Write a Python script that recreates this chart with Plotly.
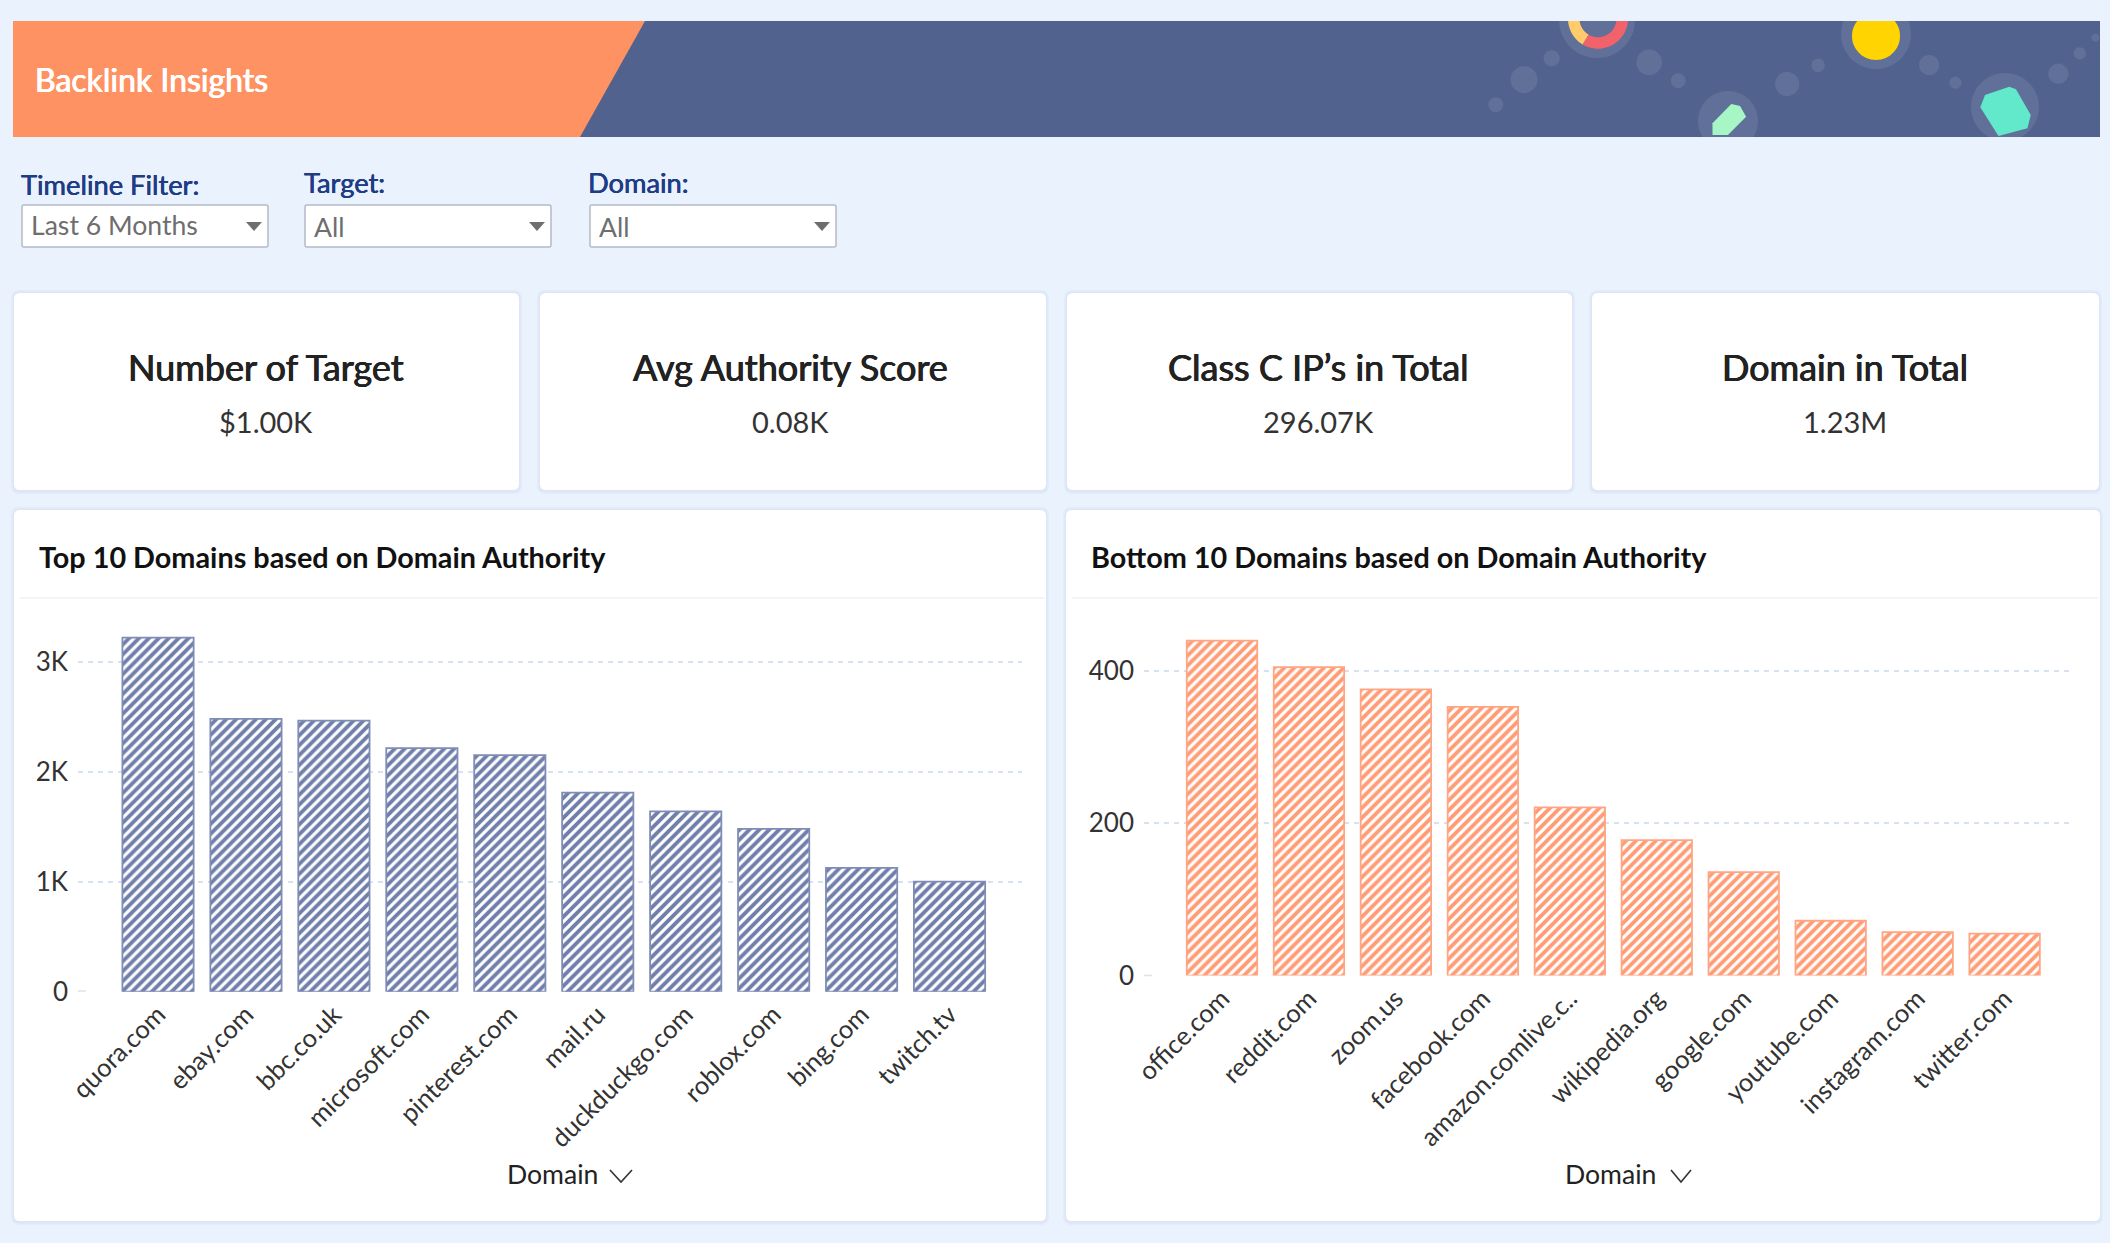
import numpy as np
import plotly.graph_objects as go

W, H = 2110, 1243
top_domains = ["quora.com", "ebay.com", "bbc.co.uk", "microsoft.com", "pinterest.com",
               "mail.ru", "duckduckgo.com", "roblox.com", "bing.com", "twitch.tv"]
top_values = [3218, 2480, 2465, 2215, 2150, 1810, 1640, 1480, 1125, 1000]
bottom_domains = ["office.com", "reddit.com", "zoom.us", "facebook.com", "amazon.comlive.c..",
                  "wikipedia.org", "google.com", "youtube.com", "instagram.com", "twitter.com"]
bottom_values = [440, 405, 376, 353, 221, 178, 136, 72, 57, 55]
top_ticks = [0, 1000, 2000, 3000]
top_tick_text = ["0", "1K", "2K", "3K"]
bottom_ticks = [0, 200, 400]
bottom_tick_text = ["0", "200", "400"]
kpi_titles = ["Number of Target", "Avg Authority Score", "Class C IP\u2019s in Total", "Domain in Total"]
kpi_values = ["$1.00K", "0.08K", "296.07K", "1.23M"]

BG = "#EAF2FE"
NAVY = "#52628F"
ORANGE = "#FF9262"
FONT = "Lato"

def X(x): return x / W
def Y(y): return 1 - y / H

shapes, annotations = [], []

def path_shape(d, fill, line=None, lw=0):
    shapes.append(dict(type="path", xref="paper", yref="paper", path=d, fillcolor=fill, layer="below",
                       line=dict(color=line or "rgba(0,0,0,0)", width=lw)))

def poly(pts, fill, line=None, lw=0):
    d = "M" + " L".join(f"{X(a):.5f},{Y(b):.5f}" for a, b in pts) + " Z"
    path_shape(d, fill, line, lw)

def rrect(x0, y0, x1, y1, r, fill, line=None, lw=0):
    P = lambda a, b: f"{X(a):.5f},{Y(b):.5f}"
    d = (f"M{P(x0 + r, y0)} L{P(x1 - r, y0)} Q{P(x1, y0)} {P(x1, y0 + r)} L{P(x1, y1 - r)} "
         f"Q{P(x1, y1)} {P(x1 - r, y1)} L{P(x0 + r, y1)} Q{P(x0, y1)} {P(x0, y1 - r)} "
         f"L{P(x0, y0 + r)} Q{P(x0, y0)} {P(x0 + r, y0)} Z")
    path_shape(d, fill, line, lw)

def circle(cx, cy, r, fill):
    t = np.linspace(0, 2 * np.pi, 60, endpoint=False)
    poly(list(zip(cx + r * np.cos(t), cy + r * np.sin(t))), fill)

def arc(cx, cy, r0, r1, a0, a1, fill):
    t = np.radians(np.linspace(a0, a1, 40))
    pts = list(zip(cx + r1 * np.cos(t), cy + r1 * np.sin(t))) + list(zip(cx + r0 * np.cos(t[::-1]), cy + r0 * np.sin(t[::-1])))
    poly(pts, fill)

def text(x, y, s, size, color, anchor="left", weight=400, family=FONT, heavy=0):
    font = dict(family=family, size=size, color=color, weight=weight)
    if heavy:
        font["shadow"] = f"{heavy}px 0 0 {color}, -{heavy}px 0 0 {color}"
    annotations.append(dict(x=X(x), y=Y(y), xref="paper", yref="paper", text=s, showarrow=False,
                            xanchor=anchor, yanchor="middle", align=anchor, font=font))

def card(x0, y0, x1, y1):
    rrect(x0 - 3, y0 - 3, x1 + 3, y1 + 4, 8, "rgba(120,140,180,0.05)")
    rrect(x0 - 1.5, y0 - 1.5, x1 + 1.5, y1 + 2.5, 7, "rgba(120,140,180,0.06)")
    rrect(x0, y0, x1, y1, 6, "#FFFFFF")

# ---- banner ----
poly([(13, 21), (2100, 21), (2100, 137), (13, 137)], NAVY)
poly([(13, 21), (645, 21), (580, 137), (13, 137)], ORANGE)
SOFT = "rgba(255,255,255,0.09)"
zoom_circles = [(655, 314, 11), (697, 239, 20), (738, 175, 12), (883, 187, 19), (926, 242, 11), (1088, 252, 18),
                (1134, 196, 10), (1299, 195, 15), (1338, 248, 9), (1491, 221, 15), (1523, 160, 9), (1546, 113, 6)]
for zx, zy, zr in zoom_circles:
    circle(1055 + zx / 1.486, zy / 3, zr / 1.486, SOFT)
circle(1597, 20, 38, SOFT)
arc(1598, 18.7, 18.5, 30, 0, 121, "#F1626B")
arc(1598, 18.7, 18.5, 30, 121, 180, "#FFCB6B")
circle(1876, 34, 35, SOFT)
circle(1876, 36, 24, "#FFD400")
circle(1728, 121, 30, SOFT)
poly([(1055 + a / 1.486, b / 3) for a, b in [(977, 370), (1005, 312), (1018, 318), (1027, 350), (1000, 405), (977, 405)]], "#A6F6C6")
circle(2005, 107, 34, SOFT)
poly([(1055 + a / 1.486, b / 3) for a, b in [(1418, 260), (1382, 285), (1375, 322), (1402, 408), (1445, 385), (1450, 345), (1428, 268)]], "#62E8CB")
poly([(1500, 0), (2110, 0), (2110, 21), (1500, 21)], BG)
poly([(1500, 137), (2110, 137), (2110, 160), (1500, 160)], BG)
text(33, 80, "Backlink Insights", 32, "#FFFFFF", heavy=0.45)

# ---- filters ----
text(19, 184, "Timeline Filter:", 27.3, "#1F3D85", heavy=0.25)
text(302, 182, "Target:", 27.3, "#1F3D85", heavy=0.25)
text(586, 182, "Domain:", 27.3, "#1F3D85", heavy=0.25)
for (x0, x1), label, ty in zip([(22, 268), (305, 551), (590, 836)], ["Last 6 Months", "All", "All"], [225, 227, 227]):
    rrect(x0, 205, x1, 247, 2, "#FFFFFF", "#B4BAC8", 1.5)
    text(x0 + 7, ty, label, 26.6, "#6E6E6E")
    ax = x1 - 14
    poly([(ax - 8, 222), (ax + 8, 222), (ax, 231)], "#6E6E6E")

# ---- KPI cards ----
kpi_boxes = [(14, 519), (540, 1046), (1067, 1572), (1592, 2099)]
kpi_cx = [265.5, 790, 1318, 1845]
for (x0, x1), cx, t, v in zip(kpi_boxes, kpi_cx, kpi_titles, kpi_values):
    card(x0, 293, x1, 490)
    text(cx, 367, t, 36, "#222222", anchor="center", heavy=0.45)
    text(cx, 422, v, 29, "#333333", anchor="center")

# ---- chart cards ----
for (x0, x1), tx, t in zip([(14, 1046), (1066, 2100)], [37, 1089],
                            ["Top 10 Domains based on Domain Authority", "Bottom 10 Domains based on Domain Authority"]):
    card(x0, 510, x1, 1221)
    shapes.append(dict(type="line", xref="paper", yref="paper", x0=X(x0 + 6), x1=X(x1 - 2), y0=Y(598), y1=Y(598),
                       layer="below", line=dict(color="#EEF1F6", width=1.5)))
    text(tx, 557, t, 28.8, "#111111", weight=700)

for tx, cx0, cx1 in [(552, 610, 632), (1611, 1671, 1691)]:
    text(tx, 1174, "Domain", 26.6, "#222222", anchor="center")
    shapes.append(dict(type="path", xref="paper", yref="paper", layer="below",
                       path=f"M{X(cx0)},{Y(1170)} L{X((cx0 + cx1) / 2)},{Y(1182)} L{X(cx1)},{Y(1170)}",
                       line=dict(color="#333333", width=1.6)))

# small dash beside each zero label
for a, b, y in [(78, 86, 991), (1144, 1152, 975.5)]:
    shapes.append(dict(type="line", xref="paper", yref="paper", x0=X(a), x1=X(b), y0=Y(y), y1=Y(y), layer="below",
                       line=dict(color="#DDE3EC", width=1.5)))

def bars(x, y, fg, line, xa, ya):
    return go.Bar(x=x, y=y, xaxis=xa, yaxis=ya, width=0.81, showlegend=False, hoverinfo="x+y",
                  marker=dict(color="#FFFFFF", line=dict(color=line, width=1.8),
                              pattern=dict(shape="/", size=7, solidity=0.55, fgcolor=fg, bgcolor="#FFFFFF", fgopacity=1)))

fig = go.Figure([
    bars(top_domains, top_values, "#6F7EAB", "#7F8DB6", "x", "y"),
    bars(bottom_domains, bottom_values, "#FF9C75", "#FFA583", "x2", "y2"),
])

PT, PB1, PB2 = 620, 991.7, 975.6
def xax(dom, rng):
    return dict(domain=[X(dom[0]), X(dom[1])], range=rng, type="category", tickangle=-45, showgrid=False, zeroline=False,
                showline=False, ticks="", ticklabelstandoff=2, automargin=False,
                tickfont=dict(family=FONT, size=25.5, color="#333333"), categoryorder="array")
def yax(bottom, rng, vals, txt, anchor):
    return dict(domain=[Y(bottom), Y(PT)], range=rng, tickvals=vals, ticktext=txt, showgrid=True, gridcolor="#D6E2F2",
                griddash="5px,5px", gridwidth=1.5, zeroline=True, zerolinecolor="rgba(0,0,0,0)", showline=False,
                ticks="", ticklabelstandoff=9, automargin=False, anchor=anchor,
                tickfont=dict(family=FONT, size=26, color="#333333"))

fig.update_layout(
    width=W, height=H, margin=dict(l=0, r=0, t=0, b=0), autosize=False,
    paper_bgcolor=BG, plot_bgcolor="rgba(0,0,0,0)", shapes=shapes, annotations=annotations,
    xaxis=xax((78, 1022), [-0.91, 9.824]),
    yaxis=yax(PB1, [0, (PB1 - PT) / 110 * 1000], top_ticks, top_tick_text, "x"),
    xaxis2=xax((1144, 2072), [-0.897, 9.775]),
    yaxis2=yax(PB2, [0, (PB2 - PT) / 0.7615], bottom_ticks, bottom_tick_text, "x2"),
)
fig.layout.xaxis2.anchor = "y2"
fig.layout.xaxis.anchor = "y"
fig.write_html("out.html", config={"displayModeBar": False},
               post_script="document.body.style.margin='0';document.body.style.overflow='hidden';")
